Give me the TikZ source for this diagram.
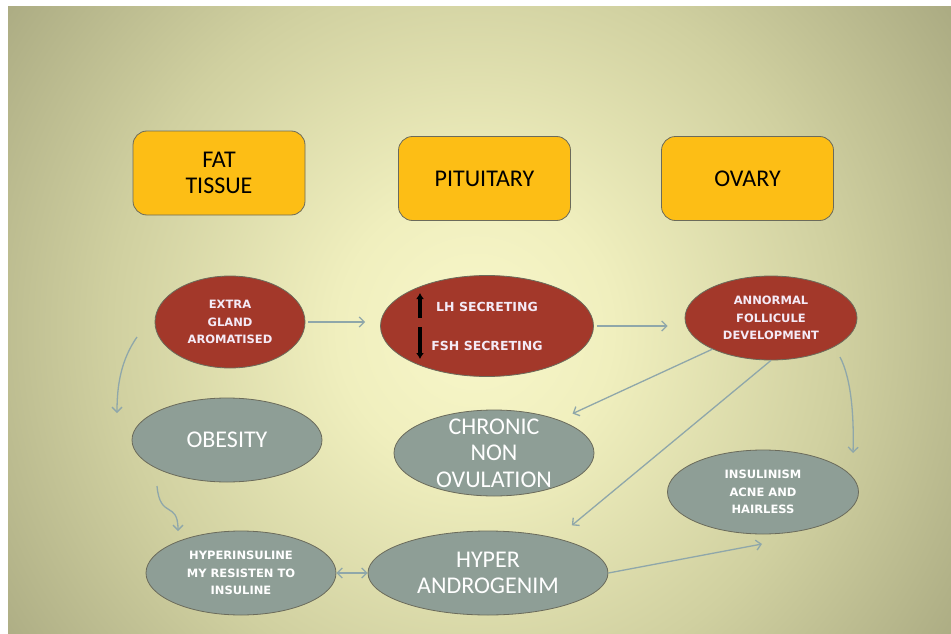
\documentclass[tikz,border=0pt]{standalone}
\usepackage{fontspec}
\usepackage{tikz}
\usetikzlibrary{shapes.geometric,arrows.meta}
\setmainfont{Carlito}
\newfontfamily\capsfont{DejaVu Sans}
\definecolor{boxfill}{HTML}{FDBE15}
\definecolor{redfill}{HTML}{A3382A}
\definecolor{grayfill}{HTML}{8E9E96}
\definecolor{edgec}{HTML}{6B6B5B}
\definecolor{redtext}{HTML}{F4EAF6}
\definecolor{linkc}{HTML}{8FA7AA}
\definecolor{bgA}{HTML}{F8F7CA}
\definecolor{bgB}{HTML}{F0EFBE}
\definecolor{bgC}{HTML}{D0D0A0}
\definecolor{bgD}{HTML}{A8A880}
\definecolor{bgE}{HTML}{969870}
\pgfdeclareradialshading{slidebg}{\pgfpoint{0bp}{0bp}}{color(0bp)=(bgA); color(6bp)=(bgB); color(16bp)=(bgC); color(26bp)=(bgD); color(34bp)=(bgE); color(50bp)=(bgE)}
\begin{document}
\begin{tikzpicture}[x=1pt,y=-1pt]
                \tikzstyle{every node}+=[inner sep=0pt]
                \tikzstyle{organ}=[draw=edgec, line width=0.8pt, fill=boxfill, rounded corners=14pt, minimum width=172pt, minimum height=84pt, align=center, font=\fontsize{24}{26.5}\selectfont]
                \tikzstyle{redstate}=[ellipse, draw=edgec, line width=0.8pt, fill=redfill, text=redtext, align=center, font=\capsfont\bfseries\fontsize{11.5}{17.5}\selectfont]
                \tikzstyle{graystate}=[ellipse, draw=edgec, line width=0.8pt, fill=grayfill, text=white, align=center, font=\fontsize{24}{26.5}\selectfont]
                \tikzstyle{smallgray}=[graystate, font=\capsfont\bfseries\fontsize{11.5}{17.5}\selectfont]
                \tikzstyle{link}=[draw=linkc, line width=1.3pt, -{Straight Barb[length=5pt,width=10pt]}]
                \useasboundingbox (0,0) rectangle (951,634);
                \fill [white] (0,0) rectangle (951,634);
                \begin{scope}
                  \clip (8,7) rectangle (951,634);
                  \shade [shading=slidebg] (-95,-240) rectangle (1045,900);
                \end{scope}
                \node [organ] (fat) at (219,173) {FAT\\TISSUE};
                \node [organ] (pit) at (484.5,178.5) {PITUITARY};
                \node [organ] (ovary) at (747.5,178.5) {OVARY};
                \node [redstate, minimum width=150pt, minimum height=92pt] (extra) at (230,322) {EXTRA\\GLAND\\AROMATISED};
                \node [redstate, minimum width=213pt, minimum height=101pt, font=\capsfont\bfseries\fontsize{12.5}{39}\selectfont] (lh) at (487,326) {LH SECRETING\\FSH SECRETING};
                \node [redstate, minimum width=172pt, minimum height=84pt] (annormal) at (771,318) {ANNORMAL\\FOLLICULE\\DEVELOPMENT};
                \node [graystate, minimum width=190pt, minimum height=84pt] (obesity) at (227,440) {OBESITY};
                \node [graystate, minimum width=200pt, minimum height=86pt, inner ysep=-5pt] (chronic) at (494,453) {CHRONIC\\NON\\OVULATION};
                \node [smallgray, minimum width=191pt, minimum height=84pt] (insul) at (763,492) {INSULINISM\\ACNE AND\\HAIRLESS};
                \node [smallgray, minimum width=190pt, minimum height=84pt] (hyperins) at (241,573) {HYPERINSULINE\\MY RESISTEN TO\\INSULINE};
                \node [graystate, minimum width=240pt, minimum height=84pt] (hyper) at (488,573) {HYPER\\ANDROGENIM};
                \draw [black, line width=3.2pt, -{Latex[length=6pt,width=8pt]}] ([shift={(-67,-8)}]lh.center) -- ([shift={(-67,-33)}]lh.center);
                \draw [black, line width=3.2pt, -{Latex[length=6pt,width=8pt]}] ([shift={(-67,1)}]lh.center) -- ([shift={(-67,33)}]lh.center);
                \draw [link, shorten >=15pt, shorten <=3pt] (extra.east) -- (extra.east -| lh.west);
                \draw [link, shorten >=17pt, shorten <=3pt] (lh.east) -- (lh.east -| annormal.west);
                \draw [link, shorten >=15pt] (annormal.208) -- (chronic.27);
                \draw [link, shorten >=20pt] (annormal.south) -- (hyper.27);
                \draw [link, {Straight Barb[length=5pt,width=10pt]}-{Straight Barb[length=5pt,width=10pt]}] (hyperins.east) -- (hyper.west);
                \coordinate (hy) at (762,544);
                \draw [link] (hyper.east) -- (hy);
                \coordinate (e1) at (137,337);
                \coordinate (e2) at (117,413);
                \draw [link] (e1) .. controls (121,360) and (117,385) .. (e2);
                \coordinate (o1) at (157,486);
                \coordinate (o2) at (178,531);
                \draw [link] (o1) .. controls (160,520) and (178,500) .. (o2);
                \coordinate (a1) at (840,357);
                \coordinate (a2) at (853,453);
                \draw [link] (a1) .. controls (852,380) and (854,420) .. (a2);
\end{tikzpicture}
\end{document}
